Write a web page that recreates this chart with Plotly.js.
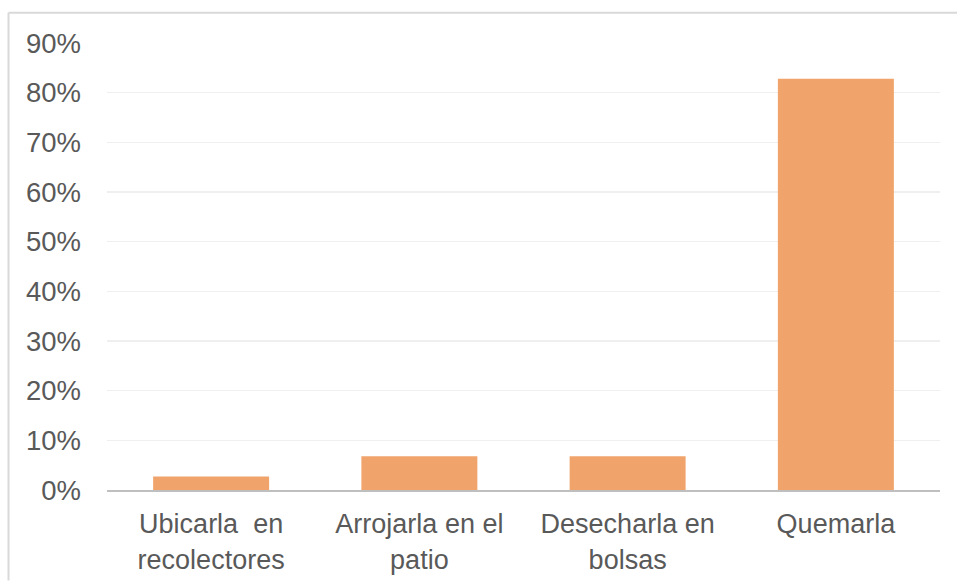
<!DOCTYPE html>
<html>
<head>
<meta charset="utf-8">
<script src="https://cdn.plot.ly/plotly-3.0.1.min.js"></script>
<style>
  html, body { margin: 0; padding: 0; background: #ffffff; }
  #chart { width: 957px; height: 581px; }
</style>
</head>
<body>
<div id="chart"></div>
<script>
const categories = ["Ubicarla  en<br>recolectores", "Arrojarla en el<br>patio", "Desecharla en<br>bolsas", "Quemarla"];
const values = [0.027, 0.068, 0.068, 0.828];
const yTickValues = [0, 0.1, 0.2, 0.3, 0.4, 0.5, 0.6, 0.7, 0.8, 0.9];
const yTickLabels = ["0%", "10%", "20%", "30%", "40%", "50%", "60%", "70%", "80%", "90%"];

const plotLeft = 107, plotRight = 940, plotTop = 43.3, plotBottom = 490.5;
const pw = plotRight - plotLeft, ph = plotBottom - plotTop;
const px = v => (v - plotLeft) / pw;
const py = v => (plotBottom - v) / ph;

const trace = {
  type: "bar",
  x: categories,
  y: values,
  marker: { color: "#F0A46C" },
  width: 0.557,
  hoverinfo: "skip"
};

const layout = {
  width: 957,
  height: 581,
  margin: { l: plotLeft, r: 957 - plotRight, t: plotTop, b: 581 - plotBottom, pad: 0 },
  paper_bgcolor: "#ffffff",
  plot_bgcolor: "#ffffff",
  showlegend: false,
  bargap: 0.443,
  font: { family: "Liberation Sans, Arial, sans-serif", color: "#595959", size: 27 },
  xaxis: {
    type: "category",
    showgrid: false,
    showline: true,
    linecolor: "#BFBFBF",
    linewidth: 2,
    ticks: "",
    tickfont: { size: 27, color: "#595959" },
    ticklabelstandoff: 9,
    zeroline: false
  },
  yaxis: {
    range: [0, 0.9],
    tickvals: yTickValues,
    ticktext: yTickLabels,
    showgrid: true,
    gridcolor: "#EFEFEF",
    gridwidth: 1.5,
    zeroline: false,
    showline: false,
    ticks: "",
    tickfont: { size: 27.5, color: "#595959" },
    ticklabelstandoff: 25
  },
  shapes: [
    { type: "line", xref: "paper", yref: "paper", x0: px(8.5), x1: px(957), y0: py(13), y1: py(13), line: { color: "#D9D9D9", width: 2 } },
    { type: "line", xref: "paper", yref: "paper", x0: px(8.5), x1: px(8.5), y0: py(13), y1: py(581), line: { color: "#D9D9D9", width: 2 } }
  ]
};

Plotly.newPlot("chart", [trace], layout, { staticPlot: true, displayModeBar: false });
</script>
</body>
</html>
